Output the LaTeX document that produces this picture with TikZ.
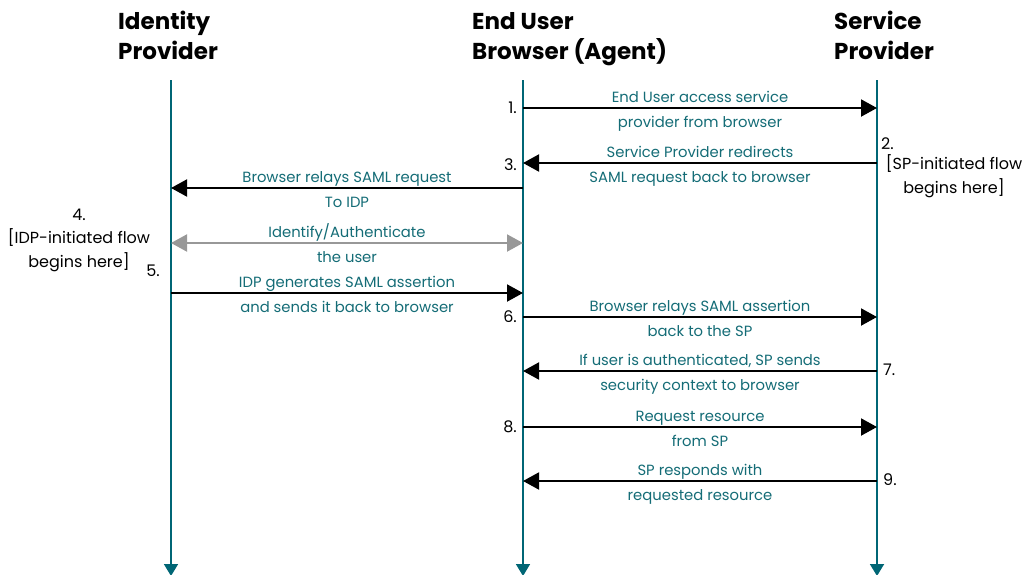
\documentclass[tikz,border=0pt]{standalone}
\usepackage{fontspec}
\setmainfont{Poppins}
\usepackage{xcolor}
\definecolor{lifeteal}{RGB}{0, 102, 117}
\definecolor{labelteal}{RGB}{20, 108, 118}
\definecolor{authgray}{RGB}{152, 152, 152}
\usetikzlibrary{arrows.meta, positioning}

\begin{document}
\begin{tikzpicture}[x=1pt, y=-1pt,
        actor/.style={font=\bfseries\fontsize{23}{30}\selectfont, align=left, anchor=base west, inner sep=0pt},
        lifeline/.style={draw=lifeteal, line width=1.8pt, -{Triangle[length=12pt,width=14pt]}},
        msg/.style={draw=black, line width=2pt, -{Triangle[length=16pt,width=17pt]}},
        authmsg/.style={draw=authgray, line width=2pt, {Triangle[length=16pt,width=17pt]}-{Triangle[length=16pt,width=17pt]}},
        lbltop/.style={anchor=base, yshift=6pt, inner sep=0pt, text=labelteal, font=\fontsize{14.8}{16}\selectfont},
        lblbot/.style={anchor=base, yshift=-19pt, inner sep=0pt, text=labelteal, font=\fontsize{14.8}{16}\selectfont},
        stepnum/.style={inner sep=0pt, font=\fontsize{16}{23.5}\selectfont, align=center}]

        \useasboundingbox (0,0) rectangle (1027,574);

        % Cabeceras (base = ultima linea)
        \node [actor] (idpHead) at (118,59) {Identity\\Provider};
        \node [actor] (euHead) at (472,59) {End User\\Browser (Agent)};
        \node [actor] (spHead) at (834,59) {Service\\Provider};

        % Lineas de vida
        \coordinate (idpTop) at (171,80);
        \coordinate (idpBot) at (171,576);
        \coordinate (euTop) at (523,80);
        \coordinate (euBot) at (523,576);
        \coordinate (spTop) at (877,80);
        \coordinate (spBot) at (877,576);
        \path [lifeline] (idpTop) -- (idpBot);
        \path [lifeline] (euTop) -- (euBot);
        \path [lifeline] (spTop) -- (spBot);

        % Puntos de cada mensaje sobre las lineas de vida
        \foreach \n/\y in {1/108, 2/163, 3/188, 4/243, 5/293, 6/317, 7/371, 8/427, 9/481} {
            \coordinate (idp\n) at (171,\y);
            \coordinate (eu\n) at (523,\y);
            \coordinate (sp\n) at (877,\y);
        }

        % Mensajes
        \path [msg] (eu1) -- node [lbltop] (m1a) {End User access service} node [lblbot] (m1b) {provider from browser} (sp1);
        \path [msg] (sp2) -- node [lbltop] (m2a) {Service Provider redirects} node [lblbot] (m2b) {SAML request back to browser} (eu2);
        \path [msg] (eu3) -- node [lbltop] (m3a) {Browser relays SAML request} node [lblbot] (m3b) {To IDP} (idp3);
        \path [authmsg] (idp4) -- node [lbltop] (m4a) {Identify/Authenticate} node [lblbot] (m4b) {the user} (eu4);
        \path [msg] (idp5) -- node [lbltop] (m5a) {IDP generates SAML assertion} node [lblbot] (m5b) {and sends it back to browser} (eu5);
        \path [msg] (eu6) -- node [lbltop] (m6a) {Browser relays SAML assertion} node [lblbot] (m6b) {back to the SP} (sp6);
        \path [msg] (sp7) -- node [lbltop] (m7a) {If user is authenticated, SP sends} node [lblbot] (m7b) {security context to browser} (eu7);
        \path [msg] (eu8) -- node [lbltop] (m8a) {Request resource} node [lblbot] (m8b) {from SP} (sp8);
        \path [msg] (sp9) -- node [lbltop] (m9a) {SP responds with} node [lblbot] (m9b) {requested resource} (eu9);

        % Numeros de paso
        \node [stepnum, anchor=base east] (n1) at (517,113) {1.};
        \node [stepnum, anchor=base west] (n2) at (881,149) {2.};
        \node [stepnum, anchor=base] (n2note) at (954,193) {{[}SP-initiated flow\\begins here{]}};
        \node [stepnum, anchor=base east] (n3) at (517,170) {3.};
        \node [stepnum, anchor=base] (n4) at (79,267) {4.\\{[}IDP-initiated flow\\begins here{]}};
        \node [stepnum, anchor=base east] (n5) at (160,276) {5.};
        \node [stepnum, anchor=base east] (n6) at (517,322) {6.};
        \node [stepnum, anchor=base west] (n7) at (883,375) {7.};
        \node [stepnum, anchor=base east] (n8) at (517,432) {8.};
        \node [stepnum, anchor=base west] (n9) at (883,485) {9.};
    \end{tikzpicture}
\end{document}
